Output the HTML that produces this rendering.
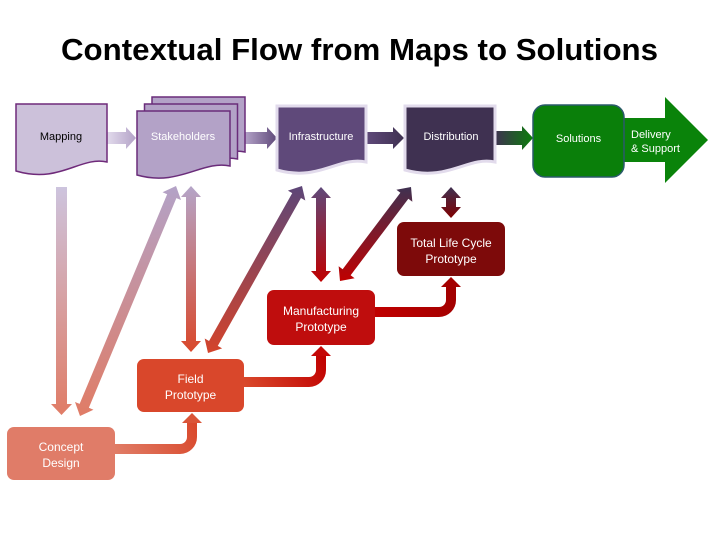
<!DOCTYPE html>
<html><head><meta charset="utf-8"><style>
html,body{margin:0;padding:0;background:#fff;}
svg{display:block;}
text{font-family:"Liberation Sans",sans-serif;}
</style></head><body>
<svg width="720" height="540" viewBox="0 0 720 540" xmlns="http://www.w3.org/2000/svg">
<defs>
<linearGradient id="gmd" gradientUnits="userSpaceOnUse" x1="0" y1="187" x2="0" y2="415"><stop offset="0" stop-color="#cdc4de"/><stop offset="1" stop-color="#e07c66"/></linearGradient>
<linearGradient id="gsc" gradientUnits="userSpaceOnUse" x1="0" y1="186" x2="0" y2="416"><stop offset="0" stop-color="#b3a2c7"/><stop offset="1" stop-color="#e07c66"/></linearGradient>
<linearGradient id="gsf" gradientUnits="userSpaceOnUse" x1="0" y1="186" x2="0" y2="352"><stop offset="0" stop-color="#b5a5c8"/><stop offset="1" stop-color="#d9482b"/></linearGradient>
<linearGradient id="gif" gradientUnits="userSpaceOnUse" x1="0" y1="186" x2="0" y2="353"><stop offset="0" stop-color="#5d4678"/><stop offset="1" stop-color="#d4442b"/></linearGradient>
<linearGradient id="gim" gradientUnits="userSpaceOnUse" x1="0" y1="187" x2="0" y2="282"><stop offset="0" stop-color="#5f497a"/><stop offset="1" stop-color="#c00000"/></linearGradient>
<linearGradient id="gdm" gradientUnits="userSpaceOnUse" x1="0" y1="187" x2="0" y2="281"><stop offset="0" stop-color="#3f3151"/><stop offset="1" stop-color="#c00000"/></linearGradient>
<linearGradient id="gdt" gradientUnits="userSpaceOnUse" x1="0" y1="187" x2="0" y2="218"><stop offset="0" stop-color="#3f3151"/><stop offset="1" stop-color="#800000"/></linearGradient>
<linearGradient id="h1" gradientUnits="userSpaceOnUse" x1="107" y1="0" x2="136" y2="0"><stop offset="0" stop-color="#e2dbec"/><stop offset="1" stop-color="#b3a2c7"/></linearGradient>
<linearGradient id="h2" gradientUnits="userSpaceOnUse" x1="245" y1="0" x2="277" y2="0"><stop offset="0" stop-color="#b3a2c7"/><stop offset="1" stop-color="#5f497a"/></linearGradient>
<linearGradient id="h3" gradientUnits="userSpaceOnUse" x1="366" y1="0" x2="404" y2="0"><stop offset="0" stop-color="#5f497a"/><stop offset="1" stop-color="#3f3151"/></linearGradient>
<linearGradient id="h4" gradientUnits="userSpaceOnUse" x1="495" y1="0" x2="533" y2="0"><stop offset="0" stop-color="#3f3151"/><stop offset="1" stop-color="#0a7d0a"/></linearGradient>
<linearGradient id="e1" gradientUnits="userSpaceOnUse" x1="115" y1="449" x2="192" y2="413"><stop offset="0" stop-color="#e07c66"/><stop offset="1" stop-color="#d9482b"/></linearGradient>
<linearGradient id="e2" gradientUnits="userSpaceOnUse" x1="244" y1="382" x2="321" y2="346"><stop offset="0" stop-color="#d9482b"/><stop offset="1" stop-color="#c00000"/></linearGradient>
<linearGradient id="e3" gradientUnits="userSpaceOnUse" x1="375" y1="312" x2="451" y2="277"><stop offset="0" stop-color="#c00000"/><stop offset="1" stop-color="#a00000"/></linearGradient>
</defs>

<!-- Title -->
<text x="61" y="60" font-size="31" font-weight="bold" fill="#000" textLength="597" lengthAdjust="spacingAndGlyphs">Contextual Flow from Maps to Solutions</text>

<!-- horizontal arrows -->
<polygon points="107,132 126,132 126,127 136,138 126,149 126,144 107,144" fill="url(#h1)"/>
<polygon points="245,132 267,132 267,127 277,138 267,149 267,144 245,144" fill="url(#h2)"/>
<polygon points="366,132 393,132 393,127 404,138 393,149 393,144 366,144" fill="url(#h3)"/>
<polygon points="495,131 522,131 522,126 533,138 522,150 522,145 495,145" fill="url(#h4)"/>

<!-- Mapping doc -->
<path d="M16,104 H107 V162 C80,156 60,184 16,171 Z" fill="#ccc1da" stroke="#6f2a7a" stroke-width="1.5"/>
<text x="61" y="140" font-size="11" fill="#000" text-anchor="middle">Mapping</text>

<!-- Stakeholders stack -->
<path d="M152,97 H245 V152 C217,146 194,173 152,161 Z" fill="#b3a2c7" stroke="#6a2c7a" stroke-width="1.5"/>
<path d="M144.5,104 H237.5 V159 C209,153 186,180 144.5,168 Z" fill="#b3a2c7" stroke="#6a2c7a" stroke-width="1.5"/>
<path d="M137,111 H230 V166 C202,160 179,187 137,175 Z" fill="#b3a2c7" stroke="#6a2c7a" stroke-width="1.5"/>
<text x="183" y="140" font-size="11" fill="#fff" text-anchor="middle">Stakeholders</text>

<!-- Infrastructure -->
<path d="M277,106 H366 V162 C339,156 319,182 277,170 Z" fill="#5f497a" stroke="#e2dbec" stroke-width="3"/>
<text x="321" y="140" font-size="11" fill="#fff" text-anchor="middle">Infrastructure</text>

<!-- Distribution -->
<path d="M405,106 H495 V162 C468,156 448,182 405,170 Z" fill="#3f3151" stroke="#e2dbec" stroke-width="3"/>
<text x="451" y="140" font-size="11" fill="#fff" text-anchor="middle">Distribution</text>

<!-- Delivery arrow -->
<polygon points="618,118 665,118 665,97 708,140 665,183 665,162 618,162" fill="#0a830a"/>
<!-- Solutions -->
<rect x="533" y="105" width="91" height="72" rx="12" ry="12" fill="#0a7f0a" stroke="#2a5a6a" stroke-width="1.5"/>
<text x="578.5" y="142" font-size="11" fill="#fff" text-anchor="middle">Solutions</text>
<text x="631" y="138" font-size="11" fill="#fff">Delivery</text>
<text x="631" y="152" font-size="11" fill="#fff">&amp; Support</text>

<!-- vertical / diagonal arrows -->
<polygon points="56,187 67,187 67,404 72,404 61.5,415 51,404 56,404" fill="url(#gmd)"/>
<polygon points="176,186 162.53,192.30 167.15,194.22 79.63,403.92 75.01,402.00 80,416 93.47,409.70 88.86,407.78 176.38,198.08 180.99,200.00" fill="url(#gsc)"/>
<polygon points="191,186 181,197 186,197 186,341 181,341 191,352 201,341 196,341 196,197 201,197" fill="url(#gsf)"/>
<polygon points="302,186 287.89,190.68 292.25,193.14 209.04,340.96 204.68,338.50 208,353 222.12,348.32 217.76,345.86 300.96,198.04 305.32,200.50" fill="url(#gif)"/>
<polygon points="321,187 311,198 316,198 316,271 311,271 321,282 331,271 326,271 326,198 331,198" fill="url(#gim)"/>
<polygon points="411,187 396.39,189.75 400.38,192.77 342.64,269.21 338.65,266.19 340,281 354.61,278.25 350.62,275.23 408.36,198.79 412.35,201.81" fill="url(#gdm)"/>
<polygon points="451,187 441,198 446,198 446,207 441,207 451,218 461,207 456,207 456,198 461,198" fill="url(#gdt)"/>

<!-- elbow arrows -->
<path d="M110,449 H180 A12,12 0 0 0 192,437 V422" fill="none" stroke="url(#e1)" stroke-width="10"/>
<polygon points="182,423 202,423 192,413" fill="#da5538"/>
<path d="M240,382 H309 A12,12 0 0 0 321,370 V355" fill="none" stroke="url(#e2)" stroke-width="10"/>
<polygon points="311,356 331,356 321,346" fill="#c40808"/>
<path d="M372,312 H439 A12,12 0 0 0 451,300 V286" fill="none" stroke="url(#e3)" stroke-width="10"/>
<polygon points="441,287 461,287 451,277" fill="#a40000"/>

<!-- boxes -->
<rect x="7" y="427" width="108" height="53" rx="7" fill="#e07c68"/>
<text x="61" y="451" font-size="12" fill="#fff" text-anchor="middle">Concept</text>
<text x="61" y="467" font-size="12" fill="#fff" text-anchor="middle">Design</text>

<rect x="137" y="359" width="107" height="53" rx="7" fill="#d9472b"/>
<text x="190.5" y="383" font-size="12" fill="#fff" text-anchor="middle">Field</text>
<text x="190.5" y="399" font-size="12" fill="#fff" text-anchor="middle">Prototype</text>

<rect x="267" y="290" width="108" height="55" rx="7" fill="#bf0d0d"/>
<text x="321" y="315" font-size="12" fill="#fff" text-anchor="middle">Manufacturing</text>
<text x="321" y="331" font-size="12" fill="#fff" text-anchor="middle">Prototype</text>

<rect x="397" y="222" width="108" height="54" rx="7" fill="#7d0a0a"/>
<text x="451" y="247" font-size="12" fill="#fff" text-anchor="middle">Total Life Cycle</text>
<text x="451" y="263" font-size="12" fill="#fff" text-anchor="middle">Prototype</text>
</svg>
</body></html>
